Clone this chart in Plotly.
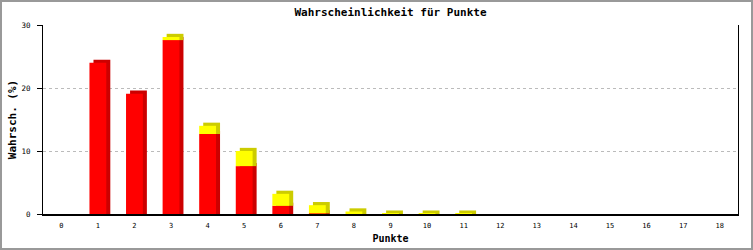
import plotly.graph_objects as go

# Data
punkte = list(range(19))
rot = [0, 24.0, 19.1, 27.6, 12.7, 7.6, 1.3, 0.1, 0, 0, 0, 0, 0, 0, 0, 0, 0, 0, 0]
gelb = [0, 0, 0, 0.5, 1.3, 2.4, 1.9, 1.3, 0.4, 0.06, 0.06, 0.06, 0, 0, 0, 0, 0, 0, 0]
y_ticks = [0, 10, 20, 30]

# 3D look (styling)
W = 0.46      # bar width in category units
DX = 0.11     # depth offset in x (category units)
DY = 0.5      # depth offset in y (%)

RED, RED_D = "#ff0000", "#cc0000"
YEL, YEL_D = "#ffff00", "#cccc00"

fig = go.Figure()

fig.add_trace(go.Bar(
    x=punkte, y=[r + DY if r > 0 else 0 for r in rot], base=[0] * len(punkte),
    width=W, offset=-W / 2 + DX, marker=dict(color=RED_D, line=dict(width=0)),
    hoverinfo="skip", showlegend=False))
fig.add_trace(go.Bar(
    x=punkte, y=[g + DY if g > 0 else 0 for g in gelb], base=rot,
    width=W, offset=-W / 2 + DX, marker=dict(color=YEL_D, line=dict(width=0)),
    hoverinfo="skip", showlegend=False))
fig.add_trace(go.Bar(
    x=punkte, y=rot, base=[0] * len(punkte),
    width=W, offset=-W / 2, marker=dict(color=RED, line=dict(width=0)),
    showlegend=False))
fig.add_trace(go.Bar(
    x=punkte, y=gelb, base=rot,
    width=W, offset=-W / 2, marker=dict(color=YEL, line=dict(width=0)),
    showlegend=False))

L, R, T, B = 43, 15, 25, 36
PW, PH = 753 - L - R, 250 - T - B

fig.update_layout(
    width=753, height=250,
    margin=dict(l=L, r=R, t=T, b=B, pad=0, autoexpand=False),
    barmode="overlay",
    plot_bgcolor="white", paper_bgcolor="white",
    title=dict(text="<b>Wahrscheinlichkeit für Punkte</b>", x=0.5, xref="paper",
               y=1 - 12 / 250, yanchor="middle", automargin=False,
               font=dict(family="DejaVu Sans Mono", size=11, color="black")),
    xaxis=dict(
        range=[-0.5, 18.5], tickmode="array", tickvals=punkte,
        ticktext=[str(p) for p in punkte], automargin=False,
        showline=True, linecolor="black", linewidth=2, ticks="",
        showgrid=False, zeroline=False, ticklabelstandoff=4,
        tickfont=dict(family="DejaVu Sans Mono", size=7, color="black"),
        title=dict(text="<b>Punkte</b>", standoff=6,
                   font=dict(family="DejaVu Sans Mono", size=10, color="black")),
    ),
    yaxis=dict(
        range=[0, 30], tickmode="array", tickvals=y_ticks,
        ticktext=[str(v) for v in y_ticks], automargin=False,
        showline=True, linecolor="black", linewidth=1, mirror=True,
        ticks="outside", ticklen=5, tickcolor="black", ticklabelstandoff=5,
        showgrid=True, gridcolor="#bbbbbb", griddash="dot", gridwidth=1,
        zeroline=False,
        tickfont=dict(family="DejaVu Sans Mono", size=7.5, color="black"),
        title=dict(text="<b>Wahrsch. (%)</b>", standoff=2,
                   font=dict(family="DejaVu Sans Mono", size=11, color="black")),
    ),
    shapes=[dict(
        type="rect", xref="paper", yref="paper",
        x0=-(L - 1) / PW, x1=1 + (R - 1) / PW,
        y0=-(B - 1) / PH, y1=1 + (T - 1) / PH,
        line=dict(color="#999999", width=2), fillcolor="rgba(0,0,0,0)", layer="above")],
)

fig.write_html("out.html")
